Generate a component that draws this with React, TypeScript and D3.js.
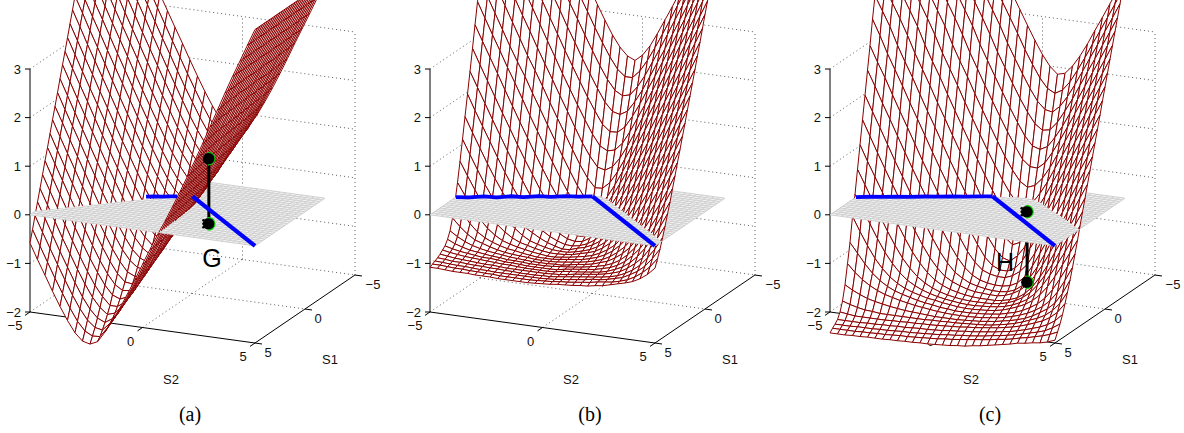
import React, { useEffect, useRef } from 'react';
import * as d3 from 'd3';

const WIDTH = 1184;
const HEIGHT = 433;

// mesh lines of the surfaces
const s1Lines = d3.range(29).map((k) => -2 + k * 0.25);
const s2Lines = d3.range(31).map((j) => -5 + j / 3);

// surface heights in hundredths: one row per S1 line (-2 to 5), one column per S2 line (-5 to 5)
const surfaceA = [
  [635,603,569,536,504,471,438,406,373,341,309,278,246,215,185,158,133,115,106,114,130,154,182,212,244,277,311,344,377,411,445],
  [610,578,544,511,479,446,413,381,348,316,284,253,221,191,161,134,113,99,94,106,125,151,181,212,244,276,310,343,377,411,445],
  [585,553,520,487,454,421,388,356,323,291,260,228,197,168,139,113,93,83,83,100,122,149,180,211,243,276,310,343,377,411,445],
  [561,528,494,462,430,396,364,332,299,267,235,204,173,143,116,92,75,70,74,94,118,147,178,210,243,276,309,343,377,411,445],
  [536,503,470,437,404,372,339,306,274,242,210,180,149,120,93,71,59,58,68,90,116,145,177,209,242,275,309,343,377,411,445],
  [511,478,444,412,380,346,314,282,250,218,186,156,125,97,73,53,45,47,62,86,114,144,176,209,242,275,309,342,376,411,445],
  [486,453,420,387,354,322,290,258,225,193,162,132,102,76,53,35,31,39,58,84,112,143,175,208,242,275,309,342,376,411,445],
  [461,428,395,362,329,297,265,232,200,169,138,108,79,54,33,18,19,31,53,81,110,142,174,208,241,274,308,342,376,411,445],
  [436,403,370,338,305,272,240,208,176,145,114,84,56,32,14,5,11,27,50,78,109,141,173,207,241,274,308,342,376,411,445],
  [411,378,345,313,280,248,216,184,152,121,90,61,34,12,-2,-9,3,21,47,77,108,140,173,207,241,274,308,342,376,411,445],
  [387,354,320,288,256,223,191,159,128,97,67,39,13,-6,-18,-20,-4,18,45,76,107,139,172,206,240,274,308,342,376,411,445],
  [362,329,295,263,231,199,167,135,104,73,44,16,-9,-25,-32,-29,-10,15,43,74,106,139,172,206,240,274,308,342,376,411,445],
  [337,304,271,239,206,174,142,110,80,49,20,-7,-29,-42,-44,-36,-14,12,41,73,105,138,171,205,240,274,308,342,376,411,445],
  [312,279,246,214,182,150,118,86,56,25,-3,-27,-47,-57,-55,-42,-17,10,40,72,104,137,171,205,240,274,308,342,376,411,445],
  [287,254,222,190,157,125,93,62,32,2,-25,-48,-65,-71,-65,-46,-20,8,39,71,104,137,170,204,239,273,307,342,376,411,445],
  [263,230,197,165,133,101,69,38,8,-22,-48,-68,-83,-82,-71,-50,-23,6,38,70,103,136,170,204,239,273,307,342,376,411,445],
  [238,205,172,140,108,76,45,14,-16,-44,-68,-87,-98,-93,-77,-53,-25,5,37,69,102,135,169,203,239,273,307,342,376,411,445],
  [213,180,148,116,84,52,20,-10,-40,-66,-89,-104,-111,-101,-82,-56,-27,4,36,68,101,135,169,203,239,273,307,342,376,411,445],
  [188,156,123,91,59,27,-4,-34,-62,-88,-108,-120,-123,-106,-85,-59,-28,3,35,67,100,134,168,202,238,273,307,342,376,411,445],
  [164,131,99,67,35,3,-28,-57,-85,-109,-128,-135,-132,-113,-89,-61,-30,2,34,66,99,133,168,202,238,273,307,342,376,411,445],
  [139,106,74,42,10,-20,-51,-80,-107,-130,-145,-147,-139,-117,-92,-63,-32,1,33,65,98,132,167,202,238,273,307,342,376,411,445],
  [114,82,50,18,-14,-45,-75,-104,-129,-149,-159,-157,-145,-121,-94,-64,-33,0,32,64,97,131,166,201,237,272,307,342,376,411,445],
  [90,57,25,-7,-39,-69,-98,-125,-149,-167,-173,-167,-149,-124,-95,-65,-33,-1,31,63,96,130,165,201,237,272,307,342,376,411,445],
  [65,33,1,-31,-63,-93,-122,-148,-169,-185,-185,-174,-153,-127,-98,-67,-35,-2,30,62,95,129,164,200,237,272,307,342,376,411,445],
  [40,8,-24,-56,-86,-116,-144,-169,-188,-200,-195,-179,-156,-129,-99,-67,-35,-3,29,61,94,128,163,199,236,271,306,342,376,411,445],
  [16,-16,-48,-80,-110,-140,-167,-190,-206,-213,-203,-184,-159,-130,-100,-68,-36,-4,28,60,93,127,162,198,235,271,306,342,376,411,445],
  [-9,-41,-72,-103,-133,-162,-188,-209,-222,-225,-209,-188,-162,-132,-102,-69,-37,-5,27,59,92,126,161,197,234,270,306,342,376,411,445],
  [-34,-66,-97,-128,-157,-185,-210,-228,-236,-235,-215,-191,-164,-134,-103,-70,-37,-5,26,58,91,125,160,196,233,269,306,342,376,411,445],
  [-58,-90,-120,-151,-180,-207,-230,-245,-249,-242,-220,-195,-166,-135,-104,-70,-37,-5,25,57,90,124,159,195,232,269,306,342,376,411,445],
];

const surfaceB = [
  [775,743,711,679,647,615,583,551,519,487,455,425,394,362,332,304,281,265,258,271,292,320,350,380,412,443,475,507,539,572,605],
  [730,697,665,634,601,569,538,505,473,442,410,379,349,318,289,262,239,226,226,242,266,294,324,355,387,418,450,482,514,547,580],
  [685,652,620,589,556,524,493,461,429,397,365,335,304,274,245,219,199,190,194,213,238,268,298,329,361,393,425,457,489,522,555],
  [640,607,575,544,511,479,447,415,383,352,320,290,259,230,202,176,159,155,164,186,212,242,273,303,335,367,399,432,464,497,530],
  [594,562,530,499,466,434,403,370,338,307,275,245,215,186,159,134,121,122,135,159,187,218,248,279,311,343,375,408,440,472,505],
  [549,517,485,454,421,389,358,326,294,263,231,201,171,142,115,93,85,89,105,131,161,191,222,254,286,318,350,383,415,447,480],
  [503,472,440,408,376,344,313,281,250,220,189,159,128,98,73,53,49,58,78,105,135,167,198,230,262,294,326,358,390,423,456],
  [458,426,395,363,331,299,267,238,208,176,146,116,86,57,32,14,15,29,53,82,112,143,174,205,237,269,301,333,365,397,430],
  [413,381,349,317,285,255,227,195,165,134,104,74,45,17,-6,-23,-15,4,30,59,89,120,151,182,214,245,277,309,341,373,406],
  [372,340,308,277,245,215,184,152,122,92,63,34,7,-17,-38,-54,-37,-15,11,38,67,97,127,157,189,220,252,284,316,348,381],
  [328,296,265,234,202,171,140,110,80,51,23,-3,-25,-45,-59,-65,-50,-31,-8,17,45,74,103,133,165,197,228,260,291,323,356],
  [283,251,220,189,158,128,97,68,40,12,-13,-35,-52,-66,-73,-73,-61,-46,-27,-3,23,51,80,110,141,173,204,236,267,299,332],
  [239,208,177,146,116,86,57,29,2,-21,-41,-57,-70,-78,-81,-79,-70,-57,-41,-20,4,29,57,87,118,149,180,212,243,275,307],
  [196,164,134,104,74,45,18,-7,-31,-52,-64,-74,-81,-86,-87,-84,-78,-68,-55,-37,-15,10,37,65,95,126,156,188,219,251,283],
  [153,122,92,62,34,8,-17,-42,-58,-67,-76,-83,-88,-92,-91,-86,-82,-75,-65,-51,-32,-10,15,43,72,103,133,164,195,227,259],
  [110,80,51,23,-2,-26,-45,-59,-71,-80,-85,-89,-92,-93,-93,-90,-86,-81,-73,-62,-46,-27,-4,22,50,79,109,140,171,203,235],
  [68,40,13,-13,-34,-52,-65,-75,-82,-86,-90,-93,-95,-95,-94,-92,-88,-84,-79,-70,-58,-43,-22,2,28,56,86,117,148,179,210],
  [28,3,-21,-41,-58,-70,-79,-84,-88,-91,-94,-96,-98,-98,-96,-94,-91,-88,-84,-77,-68,-56,-38,-17,8,36,65,94,125,155,187],
  [-8,-29,-49,-64,-74,-81,-86,-90,-92,-95,-97,-99,-99,-99,-97,-95,-93,-91,-87,-82,-75,-65,-51,-34,-12,14,41,70,101,131,163],
  [-38,-54,-67,-77,-82,-87,-91,-94,-96,-97,-98,-100,-100,-100,-99,-97,-95,-93,-90,-86,-81,-73,-62,-48,-29,-6,20,49,78,108,140],
  [-61,-71,-79,-85,-89,-92,-94,-96,-98,-99,-100,-101,-101,-101,-100,-100,-97,-94,-92,-89,-84,-79,-70,-59,-44,-23,1,27,54,84,116],
  [-75,-82,-87,-91,-93,-95,-97,-98,-100,-100,-101,-102,-102,-102,-101,-99,-98,-96,-94,-91,-88,-84,-78,-69,-56,-39,-18,6,33,63,93],
  [-85,-89,-92,-94,-96,-98,-98,-99,-101,-101,-102,-103,-103,-103,-103,-102,-99,-97,-95,-93,-91,-87,-83,-76,-66,-52,-35,-13,13,40,69],
  [-90,-93,-95,-97,-98,-99,-100,-101,-102,-102,-103,-104,-104,-104,-104,-103,-100,-98,-97,-95,-93,-91,-87,-81,-74,-63,-48,-29,-6,19,48],
  [-95,-97,-99,-100,-101,-102,-103,-103,-104,-105,-105,-105,-105,-105,-105,-104,-103,-101,-98,-96,-94,-92,-89,-85,-80,-71,-59,-45,-24,0,26],
  [-99,-100,-102,-102,-103,-104,-104,-105,-105,-106,-106,-107,-107,-107,-106,-106,-104,-102,-100,-98,-96,-94,-92,-89,-85,-78,-69,-57,-40,-19,6],
  [-102,-103,-104,-105,-105,-106,-107,-107,-108,-108,-108,-108,-108,-108,-108,-107,-106,-104,-102,-100,-98,-95,-94,-91,-87,-83,-75,-66,-53,-35,-14],
  [-105,-105,-106,-107,-107,-108,-108,-109,-109,-110,-110,-110,-110,-110,-109,-108,-107,-105,-104,-102,-100,-98,-95,-93,-91,-87,-82,-74,-63,-49,-30],
  [-108,-108,-109,-110,-110,-110,-111,-111,-111,-112,-112,-112,-112,-112,-111,-110,-109,-107,-106,-105,-103,-102,-99,-97,-93,-89,-85,-80,-72,-61,-46],
];

const surfaceC = [
  [857,825,794,762,731,700,668,637,606,574,543,512,481,449,418,388,358,328,299,272,250,236,240,257,280,307,337,366,396,426,457],
  [810,778,747,716,684,653,622,590,559,528,496,465,434,403,373,343,313,281,253,227,208,200,209,228,254,282,312,341,371,401,432],
  [762,731,700,668,637,606,574,543,512,481,449,418,388,358,328,294,264,235,207,183,168,165,179,201,228,257,287,316,346,376,407],
  [716,684,653,622,590,559,528,496,465,434,403,373,343,311,277,247,217,188,162,140,129,132,150,175,202,232,262,291,321,351,382],
  [668,637,606,574,543,512,481,449,418,388,358,328,292,261,230,200,170,142,116,98,93,101,122,147,176,206,236,266,296,326,357],
  [622,590,559,528,496,465,434,403,373,343,311,276,245,213,183,153,124,97,72,59,58,71,95,122,151,181,211,241,271,301,332],
  [574,543,512,481,449,418,388,358,328,292,260,230,197,166,136,106,77,51,30,20,26,43,67,96,125,155,185,216,246,276,307],
  [528,496,465,434,403,373,343,311,276,245,214,181,150,119,89,60,32,7,-11,-16,-6,15,41,71,100,130,160,190,221,251,282],
  [481,449,418,388,358,328,292,260,230,197,165,134,103,71,41,12,-15,-36,-52,-50,-35,-12,15,45,74,105,135,165,195,226,257],
  [434,403,373,343,311,276,245,214,181,150,118,87,55,26,-5,-33,-56,-77,-90,-83,-63,-39,-10,20,49,80,110,140,171,201,232],
  [388,358,328,292,260,230,197,165,134,102,70,40,10,-20,-49,-75,-99,-115,-120,-107,-86,-61,-33,-5,25,55,85,116,146,176,206],
  [343,311,276,245,214,181,150,118,86,55,25,-5,-35,-64,-91,-115,-130,-137,-137,-129,-111,-84,-57,-28,1,30,60,91,121,151,181],
  [292,260,230,197,165,134,102,70,40,10,-20,-50,-78,-104,-124,-138,-144,-147,-147,-141,-130,-113,-88,-58,-28,3,33,64,95,125,156],
  [245,214,181,150,118,86,55,25,-5,-35,-64,-91,-115,-134,-147,-155,-159,-161,-161,-158,-150,-135,-111,-83,-53,-22,8,39,70,100,131],
  [197,165,134,102,70,40,10,-20,-50,-78,-104,-125,-142,-152,-160,-164,-167,-169,-169,-167,-161,-150,-131,-107,-78,-47,-17,14,45,75,106],
  [150,118,86,55,25,-5,-35,-64,-91,-115,-134,-149,-158,-164,-169,-172,-173,-174,-174,-171,-165,-156,-142,-122,-98,-70,-40,-10,21,51,81],
  [102,70,40,10,-20,-50,-78,-104,-125,-142,-155,-164,-170,-174,-177,-179,-180,-180,-180,-178,-174,-168,-157,-141,-119,-93,-64,-35,-5,25,56],
  [55,25,-5,-35,-64,-91,-115,-134,-149,-160,-168,-174,-178,-181,-183,-184,-184,-184,-183,-181,-177,-171,-162,-150,-132,-110,-85,-57,-28,2,31],
  [7,-20,-50,-78,-104,-125,-142,-155,-164,-171,-176,-180,-183,-185,-187,-188,-188,-187,-186,-184,-181,-176,-169,-160,-146,-127,-104,-79,-52,-23,6],
  [-35,-64,-91,-115,-134,-149,-160,-168,-174,-178,-182,-184,-187,-189,-191,-192,-192,-191,-190,-188,-185,-180,-174,-167,-157,-143,-124,-101,-75,-48,-20],
  [-85,-105,-125,-142,-155,-165,-172,-177,-181,-185,-188,-190,-193,-194,-196,-196,-196,-195,-194,-192,-190,-186,-182,-176,-168,-158,-144,-125,-100,-73,-45],
  [-125,-141,-154,-164,-172,-178,-182,-186,-189,-192,-194,-196,-198,-199,-200,-200,-200,-199,-198,-196,-194,-191,-187,-182,-176,-168,-158,-144,-124,-98,-69],
  [-165,-174,-181,-187,-191,-194,-197,-199,-201,-202,-203,-204,-205,-205,-205,-205,-204,-203,-202,-200,-198,-195,-192,-188,-183,-176,-167,-157,-143,-121,-92],
  [-195,-200,-204,-207,-208,-210,-210,-210,-210,-210,-210,-210,-209,-209,-208,-208,-207,-206,-205,-204,-202,-199,-196,-192,-187,-181,-175,-167,-155,-138,-113],
  [-214,-216,-218,-218,-218,-218,-218,-217,-217,-216,-216,-215,-215,-214,-213,-212,-211,-209,-208,-206,-204,-202,-199,-196,-192,-187,-181,-175,-166,-153,-133],
  [-226,-226,-226,-226,-225,-225,-224,-224,-223,-223,-222,-221,-221,-220,-219,-217,-216,-214,-213,-211,-209,-207,-204,-202,-198,-194,-189,-184,-177,-167,-152],
  [-232,-232,-232,-231,-231,-231,-230,-230,-229,-228,-228,-227,-226,-225,-224,-222,-221,-219,-218,-216,-214,-211,-209,-206,-203,-199,-195,-191,-186,-178,-168],
  [-237,-237,-237,-237,-236,-236,-235,-235,-234,-233,-233,-232,-231,-230,-229,-227,-226,-224,-222,-220,-218,-216,-213,-211,-208,-204,-201,-197,-193,-188,-181],
  [-243,-243,-243,-242,-242,-241,-241,-241,-240,-240,-239,-239,-238,-238,-237,-236,-235,-233,-232,-229,-227,-224,-221,-218,-215,-211,-209,-206,-204,-200,-194],
];

// blue boundary on the plane: S2 stations with their S1, then the straight diagonal.
// In (a) only the stretch between the two sheets shows.
const boundaryS2A = [-1.7, -1.4, -1.1, -0.85, -0.55];
const boundaryS1A = [0.82, 0.64, 0.54, 0.4, 0.27];
const boundaryS2 = [-5, -4.5, -4, -3.5, -3, -2.5, -2, -1.5, -1, -0.5, 0];
const boundaryS1B = [2.4, 2.22, 1.83, 1.74, 1.36, 1.26, 0.88, 0.78, 0.42, 0.29, 0];
const boundaryS1C = [2.4, 2.12, 1.9, 1.66, 1.44, 1.17, 0.96, 0.69, 0.49, 0.23, 0];
const diagonal = [0, 5];

const zTicks = [-2, -1, 0, 1, 2, 3];
const s2Ticks = [-5, 0, 5];
const s1Ticks = [-5, 0, 5];
const planeS1 = d3.range(29).map((k) => -2 + k * 0.25);
const planeS2 = d3.range(41).map((j) => -5 + j * 0.25);

const panels = [
  { x0: 30, name: '(a)', surface: surfaceA, edgeS2: boundaryS2A, edgeS1: boundaryS1A, stem: { s1: 3.09, s2: 2.1, z: [0, 1.34] }, note: { text: 'G', dx: 182, y: 267 } },
  { x0: 430, name: '(b)', surface: surfaceB, edgeS2: boundaryS2, edgeS1: boundaryS1B, stem: null, note: null },
  { x0: 830, name: '(c)', surface: surfaceC, edgeS2: boundaryS2, edgeS1: boundaryS1C, stem: { s1: 1.31, s2: 2.12, z: [-1.45, 0] }, note: { text: 'H', dx: 175, y: 271 } },
];

// fixed view of the box, same for all three panels
const xS2 = d3.scaleLinear().domain([-5, 5]).range([0, 225]);
const yS2 = d3.scaleLinear().domain([-5, 5]).range([0, 31]);
const xS1 = d3.scaleLinear().domain([5, -5]).range([0, 100]);
const yS1 = d3.scaleLinear().domain([5, -5]).range([0, -68]);
const yZ = d3.scaleLinear().domain([-2, 3]).range([312, 69]);

type P3 = { s1: number; s2: number; z: number; cut?: boolean };

const MESH = '#8b0000';
const SANS = '"Liberation Sans", Arial, sans-serif';
const SERIF = '"Liberation Serif", "Times New Roman", serif';

// keep the part of a quad on one side of z = 0
function clipQuad(quad: P3[], above: boolean): P3[] {
  const keep = (p: P3) => (above ? p.z >= 0 : p.z <= 0);
  const out: P3[] = [];
  quad.forEach((a, i) => {
    const b = quad[(i + 1) % quad.length];
    if (keep(a)) out.push(a);
    if (keep(a) !== keep(b)) {
      const t = a.z / (a.z - b.z);
      out.push({ s1: a.s1 + t * (b.s1 - a.s1), s2: a.s2 + t * (b.s2 - a.s2), z: 0, cut: true });
    }
  });
  return out;
}

function drawPanel(svg: d3.Selection<SVGSVGElement, unknown, null, undefined>, panel: (typeof panels)[number]) {
  const { x0, surface, edgeS2, edgeS1, stem, note } = panel;
  const px = (s1: number, s2: number) => x0 + xS2(s2) + xS1(s1);
  const py = (s1: number, s2: number, z: number) => yZ(z) + yS2(s2) + yS1(s1);
  const at = (p: P3): [number, number] => [px(p.s1, p.s2), py(p.s1, p.s2, p.z)];
  const line = d3.line<P3>().x((p) => at(p)[0]).y((p) => at(p)[1]);
  const g = svg.append('g');

  const seg = (a: P3, b: P3, stroke: string, width: number, dash?: string) =>
    g.append('path').attr('d', line([a, b])).attr('fill', 'none').attr('stroke', stroke)
      .attr('stroke-width', width).attr('stroke-dasharray', dash ?? null);
  const dotted = (a: P3, b: P3) => seg(a, b, '#333', 0.8, '1 3');

  // dotted box behind the surface
  zTicks.slice(1).forEach((z) => {
    dotted({ s1: 5, s2: -5, z }, { s1: -5, s2: -5, z });
    dotted({ s1: -5, s2: -5, z }, { s1: -5, s2: 5, z });
  });
  dotted({ s1: 5, s2: -5, z: -2 }, { s1: -5, s2: -5, z: -2 });
  dotted({ s1: -5, s2: -5, z: -2 }, { s1: -5, s2: 5, z: -2 });
  dotted({ s1: 5, s2: 0, z: -2 }, { s1: -5, s2: 0, z: -2 });
  dotted({ s1: 0, s2: -5, z: -2 }, { s1: 0, s2: 5, z: -2 });
  dotted({ s1: -5, s2: -5, z: -2 }, { s1: -5, s2: -5, z: 3 });
  dotted({ s1: 0, s2: -5, z: -2 }, { s1: 0, s2: -5, z: 3 });
  dotted({ s1: -5, s2: 0, z: -2 }, { s1: -5, s2: 0, z: 3 });
  dotted({ s1: -5, s2: 5, z: -2 }, { s1: -5, s2: 5, z: 3 });

  // axes
  seg({ s1: 5, s2: -5, z: -2 }, { s1: 5, s2: -5, z: 3 }, '#000', 1);
  seg({ s1: 5, s2: -5, z: -2 }, { s1: 5, s2: 5, z: -2 }, '#000', 1);
  seg({ s1: 5, s2: 5, z: -2 }, { s1: -5, s2: 5, z: -2 }, '#000', 1);

  const label = (x: number, y: number, text: string, anchor = 'middle') =>
    g.append('text').attr('x', x).attr('y', y).attr('text-anchor', anchor).attr('font-family', SANS)
      .attr('font-size', 13).attr('fill', '#111').text(text);
  const fmt = (v: number) => (v < 0 ? `\u2212${-v}` : `${v}`);

  zTicks.forEach((z) => {
    const y = py(5, -5, z);
    g.append('line').attr('x1', x0 - 5).attr('x2', x0).attr('y1', y).attr('y2', y).attr('stroke', '#000');
    label(x0 - 9, y + 4.5, fmt(z), 'end');
  });
  s2Ticks.forEach((v) => {
    const x = px(5, v);
    const y = py(5, v, -2);
    g.append('line').attr('x1', x).attr('x2', x - 5).attr('y1', y).attr('y2', y + 3.4).attr('stroke', '#000');
    label(x - (v < 0 ? 15 : 12), y + 18, fmt(v));
  });
  s1Ticks.forEach((v) => {
    const x = px(v, 5);
    const y = py(v, 5, -2);
    g.append('line').attr('x1', x).attr('x2', x + 7).attr('y1', y).attr('y2', y + 1).attr('stroke', '#000');
    label(x + (v < 0 ? 18 : 13), y + 14, fmt(v));
  });
  label(x0 + 141, 384, 'S2');
  label(x0 + 300, 364, 'S1');
  g.append('text').attr('x', x0 + 160).attr('y', 421).attr('text-anchor', 'middle')
    .attr('font-family', SERIF).attr('font-size', 20).attr('fill', '#000').text(panel.name);

  // back-to-front: S1 rows from the far side, S2 from the left, split at the plane
  const drawSurface = (above: boolean) => {
    s1Lines.slice(0, -1).forEach((s1, i) => {
      s2Lines.slice(0, -1).forEach((s2, j) => {
        const quad: P3[] = [
          { s1, s2, z: surface[i][j] / 100 },
          { s1, s2: s2Lines[j + 1], z: surface[i][j + 1] / 100 },
          { s1: s1Lines[i + 1], s2: s2Lines[j + 1], z: surface[i + 1][j + 1] / 100 },
          { s1: s1Lines[i + 1], s2, z: surface[i + 1][j] / 100 },
        ];
        const part = clipQuad(quad, above);
        if (part.length < 3) return;
        g.append('path').attr('d', line(part) + 'Z').attr('fill', '#fff').attr('stroke', 'none');
        const edges = d3.path();
        part.forEach((a, k) => {
          const b = part[(k + 1) % part.length];
          if (a.cut && b.cut) return;
          edges.moveTo(...at(a));
          edges.lineTo(...at(b));
        });
        g.append('path').attr('d', edges.toString()).attr('fill', 'none').attr('stroke', MESH).attr('stroke-width', 1);
      });
    });
  };

  const drawStem = () => {
    if (!stem) return;
    seg({ s1: stem.s1, s2: stem.s2, z: stem.z[0] }, { s1: stem.s1, s2: stem.s2, z: stem.z[1] }, '#000', 3);
  };
  const greenArc = d3.arc().innerRadius(5.6).outerRadius(6.7).startAngle(-0.3).endAngle(Math.PI + 0.2);
  const drawMarker = (z: number, scalloped: boolean) => {
    if (!stem) return;
    const x = px(stem.s1, stem.s2);
    const y = py(stem.s1, stem.s2, z);
    g.append('circle').attr('cx', x).attr('cy', y).attr('r', 6).attr('fill', '#000');
    g.append('path').attr('d', greenArc({} as never)).attr('transform', `translate(${x},${y})`).attr('fill', '#0c0');
    if (scalloped) {
      [-3.5, 0, 3.5].forEach((dy) => {
        g.append('circle').attr('cx', x - 5.4).attr('cy', y + dy).attr('r', 1.3).attr('fill', '#000');
      });
    }
  };

  const drawPlane = () => {
    const corners: P3[] = [
      { s1: 5, s2: -5, z: 0 }, { s1: 5, s2: 5, z: 0 }, { s1: -2, s2: 5, z: 0 }, { s1: -2, s2: -5, z: 0 },
    ];
    g.append('path').attr('d', line(corners) + 'Z').attr('fill', '#f2f2f2');
    const grid = d3.path();
    planeS2.forEach((s2) => {
      grid.moveTo(px(5, s2), py(5, s2, 0));
      grid.lineTo(px(-2, s2), py(-2, s2, 0));
    });
    planeS1.forEach((s1) => {
      grid.moveTo(px(s1, -5), py(s1, -5, 0));
      grid.lineTo(px(s1, 5), py(s1, 5, 0));
    });
    g.append('path').attr('d', grid.toString()).attr('fill', 'none').attr('stroke', '#cfcfcf').attr('stroke-width', 1);
  };

  const drawBoundaryLeft = () => {
    const pts = edgeS2.map((s2, i) => ({ s1: edgeS1[i], s2, z: 0 }));
    g.append('path').attr('d', line(pts)).attr('fill', 'none').attr('stroke', '#00f').attr('stroke-width', 3.8);
  };
  const drawBoundaryDiagonal = () => {
    const pts = diagonal.map((v) => ({ s1: v, s2: v, z: 0 }));
    g.append('path').attr('d', line(pts)).attr('fill', 'none').attr('stroke', '#00f').attr('stroke-width', 4.2);
  };

  drawSurface(false);
  if (stem && stem.z[0] < 0) {
    drawStem();
    drawMarker(stem.z[0], false);
  }
  drawPlane();
  drawSurface(true);
  if (stem && stem.z[0] >= 0) {
    drawStem();
    drawMarker(stem.z[0], true);
  }
  if (stem) drawMarker(stem.z[1], stem.z[1] === 0);
  drawBoundaryLeft();
  drawBoundaryDiagonal();

  if (note) {
    g.append('text').attr('x', x0 + note.dx).attr('y', note.y).attr('text-anchor', 'middle')
      .attr('font-family', SANS).attr('font-size', 25).attr('fill', '#000').text(note.text);
  }
}

export default function App() {
  const svgRef = useRef<SVGSVGElement | null>(null);

  useEffect(() => {
    if (!svgRef.current) return;
    const svg = d3.select(svgRef.current);
    svg.selectAll('*').remove();
    panels.forEach((panel) => drawPanel(svg, panel));
  }, []);

  return (
    <svg
      ref={svgRef}
      width={WIDTH}
      height={HEIGHT}
      style={{ position: 'absolute', left: 0, top: 0, background: '#fff' }}
    />
  );
}
